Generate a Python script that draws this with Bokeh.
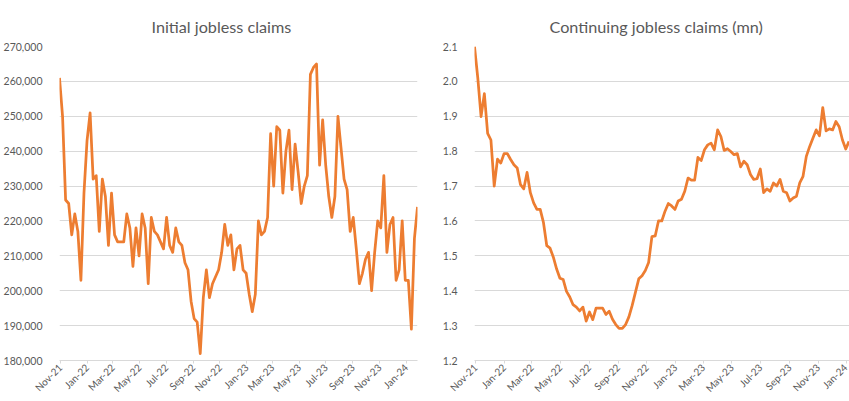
import math
import pandas as pd
from bokeh.plotting import figure
from bokeh.layouts import row
from bokeh.models import FixedTicker, NumeralTickFormatter, Range1d
from bokeh.embed import file_html
from bokeh.resources import INLINE

# ---------------- data ----------------
start_date = "2021-10-30"          # first weekly observation (week ending, Saturday)

initial_claims = [
    261000, 250000, 226000, 225000, 216000, 222000, 217000, 203000, 228000, 243000,
    251000, 232000, 233000, 217000, 232000, 227000, 213000, 228000, 216000, 214000,
    214000, 214000, 222000, 218000, 207000, 218000, 210000, 222000, 218000, 202000,
    221000, 217000, 216000, 214000, 212000, 221000, 213000, 211000, 218000, 214000,
    213000, 208000, 206000, 197000, 192000, 191000, 182000, 198000, 206000, 198000,
    202000, 204000, 206000, 211000, 219000, 213000, 216000, 206000, 212000, 213000,
    206000, 205000, 199000, 194000, 199000, 220000, 216000, 217000, 221000, 245000,
    230000, 247000, 246000, 228000, 240000, 246000, 229000, 242000, 234000, 225000,
    230000, 233000, 262000, 264000, 265000, 236000, 249000, 236000, 227000, 221000,
    227000, 250000, 241000, 232000, 229000, 217000, 221000, 212000, 202000, 205000,
    209000, 211000, 200000, 211000, 220000, 218000, 233000, 211000, 219000, 221000,
    203000, 206000, 220000, 203000, 203000, 189000, 215000, 224000,
]

continuing_claims = [
    2.100, 2.010, 1.899, 1.965, 1.851, 1.832, 1.700, 1.777, 1.766, 1.793,
    1.793, 1.776, 1.761, 1.752, 1.704, 1.692, 1.739, 1.681, 1.652, 1.633,
    1.633, 1.595, 1.529, 1.522, 1.496, 1.462, 1.436, 1.432, 1.398, 1.382,
    1.360, 1.353, 1.342, 1.353, 1.313, 1.339, 1.317, 1.350, 1.350, 1.350,
    1.332, 1.341, 1.318, 1.303, 1.292, 1.292, 1.303, 1.325, 1.358, 1.396,
    1.434, 1.443, 1.458, 1.481, 1.555, 1.557, 1.600, 1.600, 1.628, 1.650,
    1.643, 1.633, 1.657, 1.662, 1.685, 1.723, 1.717, 1.717, 1.782, 1.773,
    1.804, 1.818, 1.823, 1.804, 1.861, 1.842, 1.802, 1.807, 1.799, 1.790,
    1.793, 1.755, 1.771, 1.761, 1.733, 1.719, 1.721, 1.749, 1.681, 1.692,
    1.685, 1.709, 1.700, 1.719, 1.685, 1.681, 1.657, 1.666, 1.671, 1.709,
    1.728, 1.785, 1.813, 1.837, 1.861, 1.844, 1.925, 1.858, 1.864, 1.861,
    1.885, 1.870, 1.832, 1.806, 1.828,
]

tick_dates = [
    "2021-11-01", "2022-01-01", "2022-03-01", "2022-05-01", "2022-07-01",
    "2022-09-01", "2022-11-01", "2023-01-01", "2023-03-01", "2023-05-01",
    "2023-07-01", "2023-09-01", "2023-11-01", "2024-01-01",
]
tick_labels = [
    "Nov-21", "Jan-22", "Mar-22", "May-22", "Jul-22", "Sep-22", "Nov-22",
    "Jan-23", "Mar-23", "May-23", "Jul-23", "Sep-23", "Nov-23", "Jan-24",
]

initial_y_ticks = [180000, 190000, 200000, 210000, 220000, 230000, 240000, 250000, 260000, 270000]
continuing_y_ticks = [1.2, 1.3, 1.4, 1.5, 1.6, 1.7, 1.8, 1.9, 2.0, 2.1]

initial_title = "Initial jobless claims"
continuing_title = "Continuing jobless claims (mn)"
continuing_axis_end = "2024-01-07"

# ---------------- helpers ----------------
FONT = "Lato"
TEXT = "#595959"
GRID = "#D9D9D9"
ORANGE = "#ED7D31"


def to_ms(d):
    return float(pd.Timestamp(d).value // 10**6)


def weekly_ms(n):
    return [to_ms(d) for d in pd.date_range(start_date, periods=n, freq="7D")]


tick_ms = [to_ms(d) for d in tick_dates]
overrides = {t: lab for t, lab in zip(tick_ms, tick_labels)}


def make_panel(title, xs, ys, y_ticks, y_fmt, x_end, width, border_left, border_right, title_offset):
    p = figure(
        width=width, height=401,
        output_backend="svg", toolbar_location=None,
        x_range=Range1d(xs[0], x_end),
        y_range=Range1d(y_ticks[0], y_ticks[-1]),
        min_border_left=border_left, min_border_right=border_right,
        min_border_top=46, min_border_bottom=28,
    )
    p.outline_line_color = None
    p.background_fill_color = "white"
    p.border_fill_color = "white"

    p.title.text = title
    p.title.align = "left"
    p.title.offset = title_offset
    p.title.text_font = FONT
    p.title.text_font_size = "16.2px"
    p.title.text_font_style = "normal"
    p.title.text_color = TEXT
    p.title.standoff = 21

    p.line(xs, ys, line_color=ORANGE, line_width=2.75, line_join="round")

    # y axis
    p.yaxis.ticker = FixedTicker(ticks=y_ticks)
    p.yaxis.formatter = NumeralTickFormatter(format=y_fmt)
    p.yaxis.axis_line_color = None
    p.yaxis.major_tick_line_color = None
    p.yaxis.minor_tick_line_color = None
    p.yaxis.major_label_standoff = 11
    p.yaxis.major_label_text_font = FONT
    p.yaxis.major_label_text_font_size = "10.5px"
    p.yaxis.major_label_text_color = TEXT

    # x axis
    p.xaxis.ticker = FixedTicker(ticks=tick_ms)
    p.xaxis.major_label_overrides = overrides
    p.xaxis.axis_line_color = GRID
    p.xaxis.major_tick_line_color = GRID
    p.xaxis.minor_tick_line_color = None
    p.xaxis.major_tick_out = 3
    p.xaxis.major_tick_in = 0
    p.xaxis.major_label_orientation = math.pi / 4
    p.xaxis.major_label_standoff = 2
    p.xaxis.major_label_text_font = FONT
    p.xaxis.major_label_text_font_size = "10px"
    p.xaxis.major_label_text_color = TEXT

    p.xgrid.grid_line_color = None
    p.ygrid.grid_line_color = GRID
    p.ygrid.grid_line_width = 1
    return p


x_init = weekly_ms(len(initial_claims))
x_cont = weekly_ms(len(continuing_claims))

p1 = make_panel(initial_title, x_init, initial_claims, initial_y_ticks, "0,0",
                x_init[-1], 433, 57, 16, 92)
p2 = make_panel(continuing_title, x_cont, continuing_claims, continuing_y_ticks, "0.0",
                to_ms(continuing_axis_end), 416, 41, 0, 75)

layout = row(p1, p2)

open("out.html", "w").write(file_html(layout, INLINE))
